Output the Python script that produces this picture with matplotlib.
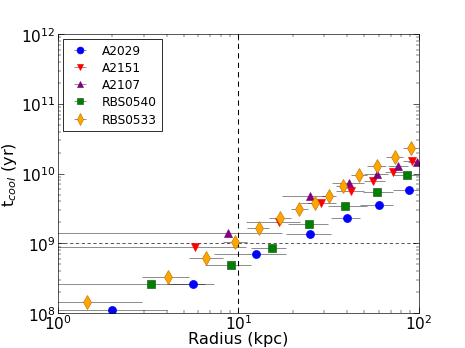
import numpy as np
import matplotlib
matplotlib.use("Agg")
import matplotlib.pyplot as plt

# ------------------------------------------------------------------
# Dati: raggio (kpc), limiti del bin, t_cool (yr)
# ------------------------------------------------------------------
a2029_r = [2.0, 5.6, 12.6, 25.0, 40.0, 60.0, 89.0]
a2029_lo = [1.0, 4.0, 7.3, 18.3, 32.5, 47.5, 72.0]
a2029_hi = [4.0, 7.3, 18.3, 32.5, 47.5, 72.0, 110.0]
a2029_t = [1.1e8, 2.65e8, 7.0e8, 1.38e9, 2.3e9, 3.6e9, 5.9e9]

a2151_r = [5.77, 16.9, 28.9, 42.4, 56.0, 72.6, 92.6]
a2151_lo = [0.5, 11.0, 22.0, 35.0, 50.0, 65.0, 82.0]
a2151_hi = [11.0, 22.0, 35.0, 50.0, 65.0, 82.0, 105.0]
a2151_t = [8.8e8, 2.0e9, 3.85e9, 5.7e9, 7.9e9, 1.07e10, 1.53e10]

a2107_r = [8.8, 25.1, 41.4, 58.5, 77.4, 97.5]
a2107_lo = [0.5, 17.5, 33.0, 50.0, 68.0, 88.0]
a2107_hi = [17.5, 33.0, 50.0, 68.0, 88.0, 110.0]
a2107_t = [1.39e9, 4.85e9, 7.4e9, 1.0e10, 1.3e10, 1.48e10]

rbs0540_r = [3.29, 9.15, 15.3, 24.8, 39.3, 58.5, 85.8]
rbs0540_lo = [0.5, 6.56, 11.7, 18.9, 31.3, 49.0, 72.0]
rbs0540_hi = [6.56, 11.8, 18.3, 31.6, 52.0, 72.0, 107.0]
rbs0540_t = [2.6e8, 4.85e8, 8.5e8, 1.87e9, 3.38e9, 5.5e9, 9.7e9]

rbs0533_r = [1.45, 4.08, 6.64, 9.6, 13.1, 17.1, 21.8, 26.8, 32.0, 38.3,
             47.0, 59.0, 73.6, 91.4]
rbs0533_lo = [0.8, 2.93, 5.34, 8.2, 11.2, 14.8, 19.5, 24.3, 29.3, 35.0,
              42.0, 52.0, 66.0, 82.0]
rbs0533_hi = [2.93, 5.34, 8.2, 11.2, 14.8, 19.5, 24.3, 29.3, 35.0, 42.0,
              52.0, 66.0, 82.0, 100.0]
rbs0533_t = [1.44e8, 3.27e8, 6.1e8, 1.03e9, 1.64e9, 2.28e9, 3.16e9, 3.85e9,
             4.7e9, 6.7e9, 9.4e9, 1.3e10, 1.75e10, 2.35e10]

r_cut = 10.0
t_cut = 1e9

series = [
    ("A2029", a2029_r, a2029_lo, a2029_hi, a2029_t, "o", "blue", "blue", 10),
    ("A2151", a2151_r, a2151_lo, a2151_hi, a2151_t, "v", "red", "red", 10),
    ("A2107", a2107_r, a2107_lo, a2107_hi, a2107_t, "^", "purple", "purple", 10),
    ("RBS0540", rbs0540_r, rbs0540_lo, rbs0540_hi, rbs0540_t, "s", "green", "#1c5a1c", 10),
    ("RBS0533", rbs0533_r, rbs0533_lo, rbs0533_hi, rbs0533_t, "d", "orange", "#c07800", 12),
]

fig = plt.figure(figsize=(8, 6), dpi=58.125)
ax = fig.add_axes([0.125, 0.1, 0.775, 0.8])

for name, r, lo, hi, t, mk, col, ec, ms in series:
    r = np.array(r)
    xerr = [r - np.array(lo), np.array(hi) - r]
    ax.errorbar(r, t, xerr=xerr, fmt=mk, color=col, mec=ec, mew=0.8, ms=ms,
                ecolor=(0, 0, 0, 0.45), elinewidth=1.2, capsize=0, label=name)

ax.axvline(r_cut, color="k", ls="--", lw=1.3, dashes=(5, 4))
ax.axhline(t_cut, color="k", ls="--", lw=0.8, dashes=(5, 4))

ax.set_xscale("log")
ax.set_yscale("log")
ax.set_xlim(1, 100)
ax.set_ylim(1e8, 1e12)

ax.tick_params(which="both", direction="in", top=True, right=True, labelsize=19)
ax.tick_params(which="major", length=7)
ax.tick_params(which="minor", length=4)
ax.tick_params(axis="x", pad=1)
ax.tick_params(axis="y", pad=3)

ax.set_xlabel("Radius (kpc)", fontsize=20, labelpad=-2)
ax.set_ylabel("t$_{cool}$ (yr)", fontsize=20, labelpad=2)

leg = ax.legend(loc="upper left", fontsize=15, numpoints=1, fancybox=False,
                framealpha=1, borderaxespad=0.4, handletextpad=0.8,
                labelspacing=0.35, markerscale=0.85)
leg.get_frame().set_edgecolor("k")

fig.savefig("out.png", dpi=58.125)
